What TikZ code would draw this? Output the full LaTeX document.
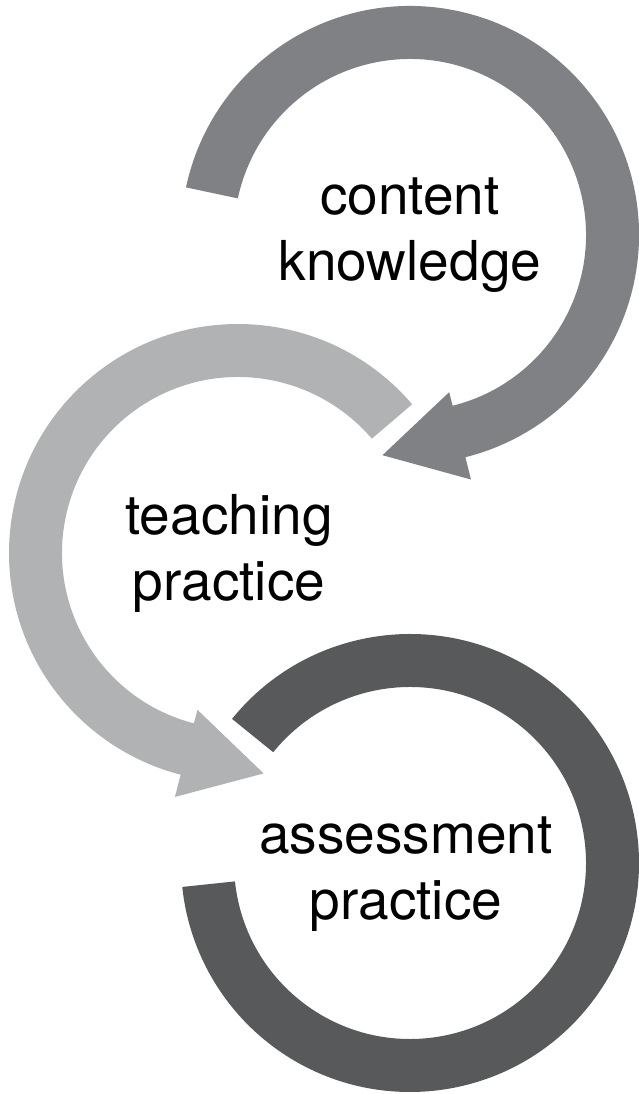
\documentclass[tikz,border=0pt]{standalone}
\usepackage{fontspec}
\setmainfont{TeX Gyre Heros}
\usepackage{tikz}
\usetikzlibrary{calc}
\definecolor{ckgray}{RGB}{128,129,133}
\definecolor{tpgray}{RGB}{177,178,180}
\definecolor{apgray}{RGB}{ 88, 89, 91}
\tikzset{
  lbl/.style ={align=center,inner sep=0pt,text=black,
               font=\fontsize{55}{66}\selectfont},
}

\begin{document}
\begin{tikzpicture}[x=1pt,y=1pt]
  \useasboundingbox (0,0) rectangle (638,1094);
  % centres of the three rings
  \coordinate (ck) at (410,859);
  \coordinate (tp) at (238,541);
  \coordinate (ap) at (410,231);
  % content knowledge -> teaching practice
  \fill[ckgray] ($(ck)+(168:229)$) arc[start angle=168,end angle=-76,radius=229]
     -- ($(ck)+(-76:252)$) -- ($(ck)+(-76:207)+(-166:80)$)
     -- ($(ck)+(-76:162)$) -- ($(ck)+(-76:176)$)
     arc[start angle=-76,end angle=168,radius=176] -- cycle;
  % teaching practice -> assessment practice
  \fill[tpgray] ($(tp)+(40.5:229)$) arc[start angle=40.5,end angle=255.5,radius=229]
     -- ($(tp)+(255.5:252)$) -- ($(tp)+(255.5:207)+(345.5:80)$)
     -- ($(tp)+(255.5:162)$) -- ($(tp)+(255.5:176)$)
     arc[start angle=255.5,end angle=40.5,radius=176] -- cycle;
  % assessment practice
  \fill[apgray] ($(ap)+(141:229)$) arc[start angle=141,end angle=-174,radius=229]
     -- ($(ap)+(-174:176)$)
     arc[start angle=-174,end angle=141,radius=176] -- cycle;
  % labels
  \node[lbl] (cklbl) at (ck) {content\\knowledge};
  \node[lbl] (tplbl) at ($(tp)+(-9,0)$) {teaching\\practice};
  \node[lbl] (aplbl) at ($(ap)+(-4,-11)$) {assessment\\practice};
\end{tikzpicture}
\end{document}
